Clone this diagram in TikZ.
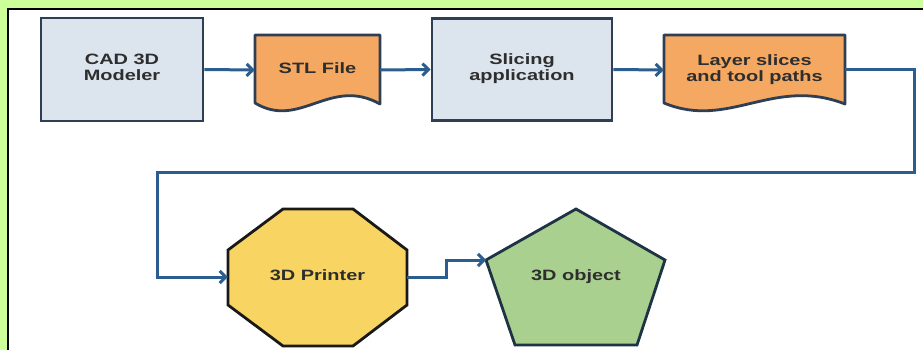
\documentclass[tikz,border=0pt]{standalone}
\usepackage{fontspec}
\usepackage{graphicx}
\setmainfont{Liberation Sans}
\usetikzlibrary{arrows.meta}
\definecolor{bggreen}{HTML}{CCFF99}
\definecolor{boxblue}{HTML}{DCE4EE}
\definecolor{boxedge}{HTML}{2E3F55}
\definecolor{docorange}{HTML}{F4A862}
\definecolor{octyellow}{HTML}{F8D462}
\definecolor{pentgreen}{HTML}{A9D08E}
\definecolor{pentedge}{HTML}{1E3444}
\definecolor{linkblue}{HTML}{2B5E8E}
\definecolor{txt}{HTML}{2E2E2E}
\newcommand\lbl[1]{\scalebox{1.33}[1]{\begin{tabular}{@{}c@{}}#1\end{tabular}}}
\begin{document}
\begin{tikzpicture}[x=1pt,y=-1pt,
  lbltext/.style={font=\fontsize{15}{16}\selectfont\bfseries, text=txt, inner sep=0pt},
  procbox/.style={draw=boxedge, line width=2.8pt, fill=boxblue, lbltext},
  anchorbox/.style={lbltext},
  docshape/.style={draw=boxedge, line width=2.8pt, fill=docorange, line join=round},
  octshape/.style={draw=black!90, line width=2.8pt, fill=octyellow, line join=miter},
  pentshape/.style={draw=pentedge, line width=2.8pt, fill=pentgreen, line join=miter},
  link/.style={draw=linkblue, line width=3pt, line join=miter, -{Straight Barb[length=6pt,width=12pt]}}
]
\useasboundingbox (0,0) rectangle (923,350);
% background and panel
\fill[bggreen] (0,0) rectangle (923,350);
\fill[white] (8,9) rectangle (923,350);
\draw[black, line width=2.2pt] (8,352) -- (8,9) -- (925,9);

% process boxes
\node[procbox, minimum width=162pt, minimum height=103pt] (cad) at (122,69.5) {\lbl{CAD 3D\\Modeler}};
\node[procbox, minimum width=180pt, minimum height=102pt] (slice) at (522,69.5) {\lbl{Slicing\\application}};

% document shapes
\path[docshape] (255,35) -- (380,35) -- (380,104) .. controls (330,76) and (300,130) .. (255,103) -- cycle;
\node[anchorbox, minimum width=125pt, minimum height=70pt] (stl) at (317.5,70) {\lbl{STL File}};
\path[docshape] (664,35) -- (845,35) -- (845,104) .. controls (773,76) and (729,130) .. (664,103) -- cycle;
\node[anchorbox, minimum width=181pt, minimum height=70pt] (layer) at (754.5,70) {\lbl{Layer slices\\and tool paths}};

% octagon
\path[octshape] (283,209) -- (353,209) -- (407,250) -- (407,305) -- (353,346) -- (283,346) -- (228,305) -- (228,250) -- cycle;
\node[anchorbox, minimum width=179pt, minimum height=137pt] (printer) at (317.5,277) {\lbl{3D Printer}};

% pentagon
\path[pentshape] (576,209) -- (665,260) -- (637,345) -- (515,345) -- (486,260) -- cycle;
\node[anchorbox] (object) at (576,277) {\lbl{3D object}};
\coordinate (objleft) at (486,260);

% connectors
\coordinate (c1) at (914,172);
\coordinate (c2) at (157,172);
\draw[link] (cad.east) -- (stl.west);
\draw[link] (stl.east) -- (slice.west);
\draw[link] (slice.east) -- (layer.west);
\draw[link] (layer.east) -| (c1) -- (c2) |- (printer.west);
\draw[link] (printer.east) -- ++(39,0) |- (objleft);
\end{tikzpicture}
\end{document}
